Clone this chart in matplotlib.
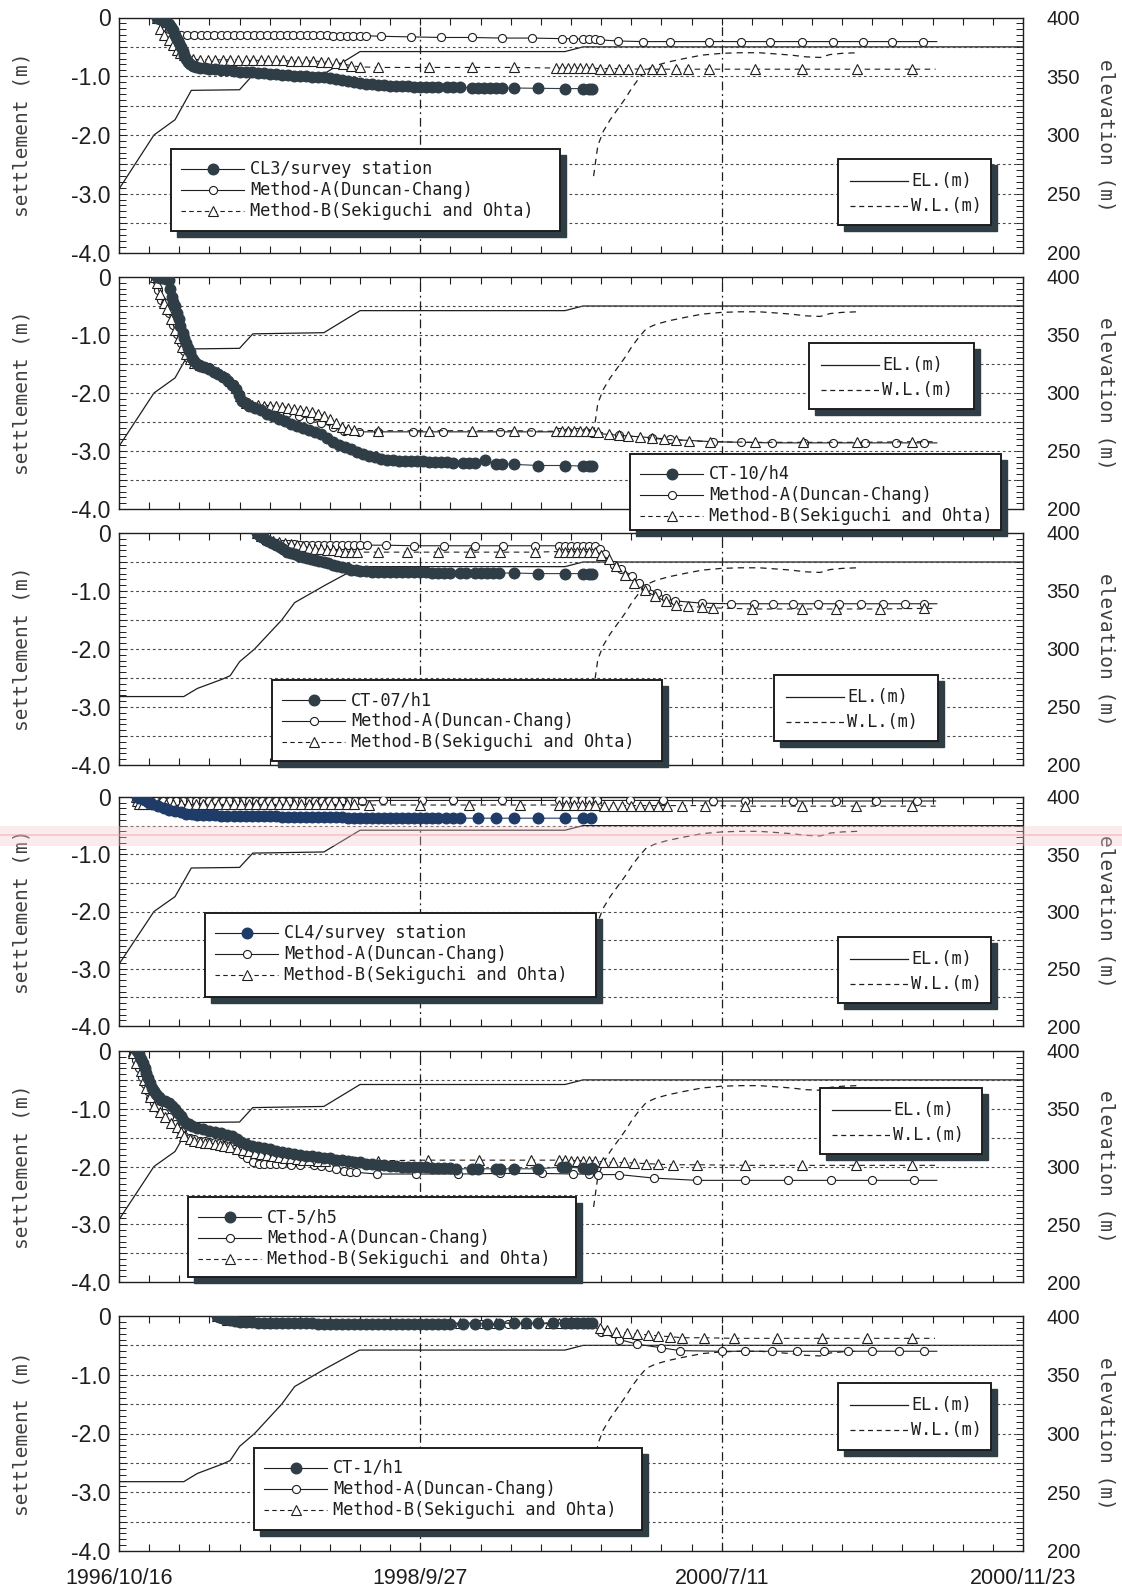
import matplotlib
matplotlib.use('Agg')
import matplotlib.pyplot as plt
from matplotlib.lines import Line2D
from matplotlib.patches import Rectangle
from matplotlib.ticker import FixedLocator, MultipleLocator

# ------------------------------------------------------------------ data
x_tick_pos = [0, 100, 200, 300]
x_tick_labels = ['1996/10/16', '1998/9/27', '2000/7/11', '2000/11/23']
settle_ticks = [0, -1, -2, -3, -4]
settle_labels = ['0', '-1.0', '-2.0', '-3.0', '-4.0']
elev_ticks = [200, 250, 300, 350, 400]
grid_levels = [-0.5, -1.0, -1.5, -2.0, -2.5, -3.0, -3.5]

# embankment elevation (two sections) and water level, metres
el_a_x = [0, 11.6, 18.6, 24, 40, 44.4, 68, 80, 148, 154, 300]
el_a_y = [254, 300, 313, 338, 338.5, 351, 352, 371, 371, 375, 375]
el_b_x = [0, 21.5, 26, 34.3, 36.9, 40, 45, 54, 58.3, 68.4, 79.8, 148, 154, 300]
el_b_y = [259, 259, 266, 274, 277, 289, 300, 325, 340, 355, 371, 371, 375, 375]
wl_x = [157.5, 158.3, 158.9, 160.7, 163, 165.5, 168, 170.2, 172.5, 175, 178, 182,
        187.5, 193.5, 200, 206, 212.5, 218, 223, 228, 232.7, 236, 240, 245]
wl_y = [265, 280, 291, 303, 313, 322, 331, 340, 348, 355.5, 359, 362,
        365, 368, 369.5, 370, 370, 369, 368, 366.5, 366, 368.5, 369.5, 370]

# ---- panel 1 : CL3
p1_meas = [(12.6,0),(13.6,-0.02),(14.6,-0.05),(15.6,-0.08),(16.6,-0.11),(17.4,-0.17),(18.0,-0.22),
           (18.6,-0.29),(19.2,-0.36),(19.8,-0.43),(20.5,-0.50),(21.1,-0.57),(21.7,-0.64),(22.4,-0.70),
           (23.0,-0.75),(23.7,-0.79),(24.5,-0.82),(25.6,-0.84),(27,-0.855),(28.5,-0.865),(30,-0.875),
           (32,-0.885),(34,-0.89),(36,-0.90),(38,-0.91),(40,-0.92),(42,-0.93),(44,-0.935),(46,-0.945),
           (48,-0.95),(50,-0.96),(52,-0.97),(54,-0.98),(56,-0.985),(58,-0.99),(60,-0.995),(62,-1.0),
           (64,-1.005),(66,-1.01),(68,-1.02),(70,-1.035),(72,-1.05),(74,-1.065),(76,-1.08),(78,-1.095),
           (80,-1.11),(82,-1.125),(84,-1.14),(86,-1.15),(88,-1.155),(90,-1.16),(92,-1.165),(94,-1.17),
           (96,-1.17),(98,-1.175),(100,-1.18),(102,-1.18),(104,-1.185),(106,-1.185),(109,-1.19),
           (111,-1.19),(113,-1.19),(117,-1.195),(119,-1.195),(121,-1.2),(123,-1.2),(125,-1.2),
           (127,-1.2),(131,-1.2),(139,-1.205),(148,-1.21),(154,-1.21),(156,-1.215),(157,-1.215)]
p1_a = [(12.6,0),(14.5,-0.1),(16.5,-0.2),(18.5,-0.26),(20.5,-0.29),(22.7,-0.3),(24.9,-0.3),(27.1,-0.3),
        (29.3,-0.3),(31.5,-0.3),(33.7,-0.3),(35.9,-0.3),(38.1,-0.3),(40.3,-0.3),(42.5,-0.3),(44.7,-0.3),
        (46.9,-0.3),(49.1,-0.3),(51.3,-0.3),(53.5,-0.3),(55.7,-0.3),(57.9,-0.3),(60.1,-0.3),(62.3,-0.3),
        (64.5,-0.3),(66.7,-0.3),(68.9,-0.3),(71.1,-0.31),(73.3,-0.31),(75.5,-0.31),(77.7,-0.31),
        (79.9,-0.31),(82.1,-0.31),(87,-0.32),(97,-0.33),(107,-0.34),(117,-0.34),(127,-0.35),(137,-0.35),
        (147,-0.36),(150.5,-0.36),(154,-0.37),(156,-0.37),(158,-0.37),(159.5,-0.38),(165.5,-0.4),
        (173.8,-0.41),(182.7,-0.41),(195.8,-0.41),(206.5,-0.41),(216,-0.41),(226.8,-0.41),(237,-0.41),
        (247,-0.41),(256.5,-0.41),(266.7,-0.41),(271.4,-0.41)]
p1_b = [(12.6,0),(13.5,-0.2),(15,-0.3),(16.7,-0.38),(18,-0.47),(19.2,-0.55),(20.3,-0.6),(21.5,-0.64),
        (23,-0.68),(24.5,-0.71),(27,-0.72),(29.5,-0.72),(32,-0.72),(34.5,-0.72),(37,-0.72),(39.5,-0.72),
        (42,-0.73),(44.5,-0.73),(47,-0.73),(49.5,-0.73),(52,-0.73),(54.5,-0.73),(57,-0.74),(59.5,-0.74),
        (62,-0.74),(64.5,-0.74),(67,-0.75),(69.5,-0.76),(72,-0.77),(74.5,-0.79),(77,-0.82),(80,-0.84),
        (86,-0.85),(103,-0.85),(117,-0.85),(131,-0.85),(145,-0.86),(147,-0.86),(149,-0.86),(151,-0.86),
        (153,-0.86),(155,-0.86),(157,-0.86),(159.5,-0.87),(162.5,-0.87),(166,-0.87),(169,-0.87),
        (173,-0.88),(176.8,-0.88),(180,-0.88),(185,-0.88),(188.7,-0.88),(195.8,-0.88),(211,-0.88),
        (226.8,-0.88),(245,-0.88),(263,-0.88),(271,-0.88)]

# ---- panel 2 : CT-10/h4
p2_meas = [(12.6,0),(13.5,-0.01),(14.5,-0.02),(15.5,-0.04),(16.5,-0.06),(17.0,-0.2),(17.5,-0.35),
           (18.0,-0.43),(18.6,-0.5),(19.2,-0.62),(19.8,-0.73),(20.4,-0.85),(21.1,-0.96),(21.7,-1.05),
           (22.3,-1.13),(23,-1.22),(23.6,-1.30),(24.3,-1.39),(24.9,-1.45),(25.8,-1.50),(26.8,-1.53),
           (28.3,-1.56),(29.9,-1.59),(31.5,-1.63),(33,-1.67),(34.6,-1.73),(36.2,-1.79),(37.5,-1.86),
           (38.8,-1.93),(39.8,-2.03),(40.7,-2.13),(42,-2.18),(43.2,-2.22),(45,-2.26),(47,-2.30),
           (49,-2.36),(51,-2.40),(53,-2.44),(55,-2.48),(57,-2.53),(59,-2.57),(61,-2.60),(63,-2.64),
           (65,-2.67),(67,-2.70),(69,-2.77),(71,-2.85),(73,-2.89),(75,-2.93),(77,-2.97),(79,-3.01),
           (81,-3.05),(83,-3.08),(85,-3.10),(87,-3.13),(89,-3.15),(91,-3.16),(93,-3.17),(95,-3.17),
           (97,-3.18),(99,-3.18),(101,-3.18),(103,-3.19),(105,-3.19),(107,-3.19),(109,-3.19),
           (111,-3.2),(114,-3.2),(116,-3.2),(118,-3.2),(121.5,-3.16),(125,-3.22),(127,-3.22),
           (131,-3.23),(139,-3.25),(148,-3.25),(154,-3.26),(156,-3.26),(157,-3.26)]
p2_a = [(12.0,0),(12.2,-0.05),(12.9,-0.22),(14.1,-0.39),(15.4,-0.45),(16.7,-0.62),(17.9,-0.82),
        (19.2,-0.99),(20.5,-1.13),(21.7,-1.27),(23,-1.39),(24.2,-1.45),(26.8,-1.5),(29.9,-1.56),
        (33,-1.65),(35.6,-1.73),(38.1,-1.85),(40,-2.02),(42,-2.16),(44.4,-2.22),(48.2,-2.26),
        (52,-2.3),(55.8,-2.34),(59.6,-2.39),(63.4,-2.45),(67.2,-2.51),(71,-2.59),(74.7,-2.65),
        (79.8,-2.67),(86,-2.67),(97.5,-2.67),(107.6,-2.67),(126.5,-2.67),(136.6,-2.67),(146,-2.67),
        (149,-2.67),(152,-2.67),(155,-2.68),(157,-2.69),(166,-2.73),(176.8,-2.77),(182.7,-2.8),
        (197,-2.84),(206.5,-2.85),(216.7,-2.86),(227.4,-2.86),(236.9,-2.86),(247.6,-2.86),
        (257.7,-2.86),(267.3,-2.86),(271.4,-2.86)]
p2_b = [(12.0,0),(12.6,-0.1),(13.5,-0.3),(14.8,-0.45),(16,-0.55),(17.3,-0.72),(18.6,-0.92),
        (19.8,-1.06),(21,-1.2),(22.3,-1.33),(23.6,-1.42),(25,-1.48),(27,-1.52),(29,-1.55),(31,-1.59),
        (33,-1.64),(35,-1.71),(37,-1.8),(38.8,-1.9),(40.2,-2.05),(42,-2.17),(44,-2.2),(46,-2.21),
        (48,-2.22),(50,-2.22),(52,-2.23),(54,-2.24),(56,-2.25),(58,-2.27),(60,-2.29),(62,-2.31),
        (64,-2.33),(66,-2.36),(68,-2.39),(70,-2.45),(72,-2.52),(74,-2.58),(76,-2.62),(78,-2.64),
        (86,-2.65),(103,-2.65),(117,-2.65),(131,-2.65),(145,-2.66),(147,-2.66),(149,-2.66),
        (151,-2.66),(153,-2.66),(155,-2.66),(157,-2.66),(159,-2.67),(162.5,-2.7),(166,-2.72),
        (169,-2.74),(173,-2.76),(177,-2.78),(181,-2.8),(185,-2.81),(189,-2.82),(196,-2.84),
        (211,-2.85),(227,-2.85),(245,-2.85),(263,-2.84),(271,-2.84)]

# ---- panel 3 : CT-07/h1
p3_meas = [(45.7,0),(46.5,-0.04),(47.3,-0.07),(48.2,-0.09),(49.5,-0.13),(50.8,-0.17),(52,-0.2),
           (53.3,-0.24),(54.5,-0.28),(55.8,-0.32),(57.1,-0.35),(58.4,-0.37),(59.6,-0.39),(61,-0.41),
           (62.3,-0.43),(63.6,-0.45),(65,-0.47),(66.5,-0.48),(68,-0.5),(69.5,-0.52),(71,-0.55),
           (72.5,-0.57),(74,-0.59),(75.5,-0.61),(77,-0.63),(78.5,-0.64),(80,-0.65),(82,-0.66),
           (84,-0.665),(86,-0.67),(88,-0.67),(90,-0.675),(92,-0.68),(94,-0.68),(96,-0.68),(98,-0.68),
           (100,-0.68),(102,-0.68),(104,-0.685),(106,-0.685),(108,-0.685),(110,-0.69),(113,-0.69),
           (115,-0.69),(118,-0.69),(120,-0.69),(122,-0.69),(124,-0.69),(126,-0.69),(131,-0.69),
           (139,-0.7),(148,-0.7),(154,-0.7),(156,-0.7),(157,-0.7)]
p3_a = [(45.7,0),(47,-0.08),(48.5,-0.13),(50,-0.16),(52,-0.18),(54,-0.19),(56,-0.19),(58,-0.19),
        (60,-0.2),(62,-0.2),(64,-0.2),(66,-0.2),(68,-0.2),(70,-0.2),(72,-0.2),(74,-0.21),(76,-0.21),
        (78,-0.21),(80,-0.21),(82.3,-0.21),(88.5,-0.21),(98,-0.22),(108,-0.22),(118,-0.22),
        (127.5,-0.22),(138,-0.22),(146,-0.22),(148,-0.22),(150,-0.22),(152,-0.22),(154,-0.22),
        (156,-0.22),(158,-0.23),(159.5,-0.27),(161.3,-0.37),(164.3,-0.55),(166.7,-0.62),(170.2,-0.74),
        (172.6,-0.86),(175,-0.95),(178.6,-1.03),(181.5,-1.12),(184.5,-1.17),(193.5,-1.21),(203,-1.22),
        (210.7,-1.22),(217,-1.22),(223.8,-1.22),(232,-1.22),(239,-1.22),(246.4,-1.22),(253.6,-1.22),
        (260.7,-1.22),(267,-1.22),(271.4,-1.22)]
p3_b = [(45.7,0),(47,-0.06),(49,-0.1),(51,-0.13),(53,-0.15),(55,-0.17),(57,-0.19),(59,-0.21),
        (61,-0.23),(63,-0.25),(65,-0.27),(67,-0.28),(69,-0.29),(71,-0.3),(73,-0.31),(75,-0.32),
        (77,-0.33),(79,-0.33),(86,-0.33),(95.6,-0.33),(106,-0.33),(116.4,-0.33),(126.5,-0.33),
        (137.9,-0.33),(146,-0.32),(148,-0.32),(150,-0.32),(152,-0.32),(154,-0.32),(156,-0.32),
        (158,-0.33),(160,-0.38),(162.5,-0.45),(164.9,-0.57),(167.9,-0.72),(170.8,-0.86),(174.4,-0.99),
        (178,-1.09),(181.5,-1.18),(185,-1.24),(188.7,-1.26),(193.5,-1.28),(197,-1.29),(210,-1.31),
        (226.8,-1.31),(238,-1.31),(252.4,-1.31),(267,-1.3),(271,-1.3)]

# ---- panel 4 : CL4
p4_meas = [(5.9,0),(6.8,-0.01),(7.8,-0.03),(8.7,-0.06),(9.7,-0.09),(11,-0.12),(12.9,-0.16),
           (14.8,-0.19),(16.7,-0.22),(18.6,-0.25),(20.5,-0.27),(22.4,-0.29),(24.2,-0.3),(26,-0.31),
           (28,-0.315),(30,-0.32),(32,-0.32),(34,-0.325),(36,-0.33),(38,-0.33),(40,-0.33),(42,-0.335),
           (44,-0.335),(46,-0.34),(48,-0.34),(50,-0.34),(52,-0.34),(54,-0.345),(56,-0.345),(58,-0.345),
           (60,-0.35),(62,-0.35),(64,-0.35),(66,-0.35),(68,-0.35),(70,-0.355),(72,-0.355),(74,-0.355),
           (76,-0.36),(78,-0.36),(80,-0.36),(82,-0.365),(84,-0.365),(86,-0.365),(88,-0.37),(90,-0.37),
           (92,-0.37),(94,-0.37),(96,-0.37),(98,-0.37),(100,-0.37),(102,-0.37),(104,-0.37),(106,-0.37),
           (108.5,-0.37),(111,-0.37),(113,-0.37),(119,-0.37),(125,-0.37),(131,-0.37),(139,-0.37),
           (148,-0.37),(154,-0.37),(156.5,-0.37)]
p4_a = [(5.5,0),(6.5,-0.04),(8,-0.07),(10.2,-0.07),(12.4,-0.07),(14.6,-0.07),(16.8,-0.07),(19,-0.07),
        (21.2,-0.07),(23.4,-0.07),(25.6,-0.07),(27.8,-0.07),(30,-0.07),(32.2,-0.07),(34.4,-0.07),
        (36.6,-0.07),(38.8,-0.07),(41,-0.07),(43.2,-0.07),(45.4,-0.07),(47.6,-0.07),(49.8,-0.07),
        (52,-0.07),(54.2,-0.07),(56.4,-0.07),(58.6,-0.07),(60.8,-0.07),(63,-0.07),(65.2,-0.07),
        (67.4,-0.07),(69.6,-0.07),(71.8,-0.07),(74,-0.07),(76.2,-0.07),(78.4,-0.07),(80.6,-0.07),
        (87.5,-0.06),(100.6,-0.06),(111,-0.06),(127,-0.06),(146,-0.06),(148.5,-0.06),(151,-0.06),
        (153.5,-0.06),(156,-0.06),(158.5,-0.06),(169.6,-0.06),(180.4,-0.06),(197,-0.07),(207.7,-0.07),
        (223.8,-0.07),(238,-0.07),(251.2,-0.07),(264.9,-0.07),(271,-0.07)]
p4_b = [(5.5,0),(6,-0.07),(6.5,-0.13),(8,-0.13),(10.5,-0.13),(13,-0.13),(15.5,-0.13),(18,-0.13),
        (20.5,-0.13),(23,-0.13),(25.5,-0.13),(28,-0.13),(30.5,-0.13),(33,-0.13),(35.5,-0.13),
        (38,-0.13),(40.5,-0.13),(43,-0.13),(45.5,-0.13),(48,-0.13),(50.5,-0.13),(53,-0.13),
        (55.5,-0.13),(58,-0.13),(60.5,-0.13),(63,-0.13),(65.5,-0.13),(68,-0.13),(70.5,-0.13),
        (73,-0.13),(75.5,-0.13),(78,-0.13),(83,-0.14),(100,-0.14),(116,-0.14),(133,-0.14),(146,-0.14),
        (148.5,-0.14),(151,-0.14),(153.5,-0.14),(156,-0.14),(158,-0.14),(161,-0.15),(164,-0.15),
        (167,-0.15),(170,-0.15),(173,-0.15),(176,-0.15),(179,-0.15),(182,-0.15),(187,-0.15),
        (194.6,-0.15),(207.7,-0.16),(226.8,-0.16),(244.6,-0.16),(263,-0.16),(271,-0.16)]

# ---- panel 5 : CT-5/h5
p5_meas = [(5.9,0),(6.5,-0.06),(7.2,-0.13),(7.8,-0.21),(8.5,-0.3),(9.1,-0.38),(9.7,-0.47),(10.4,-0.56),
           (11,-0.64),(11.6,-0.70),(12.2,-0.75),(13.2,-0.80),(14.1,-0.84),(15.4,-0.87),(16.7,-0.9),
           (17.6,-0.95),(18.6,-1.01),(19.5,-1.07),(20.5,-1.13),(21.4,-1.19),(22.3,-1.24),(23.2,-1.27),
           (24.2,-1.3),(26,-1.33),(28,-1.35),(30,-1.38),(32,-1.40),(34,-1.42),(36,-1.45),(37.5,-1.48),
           (39,-1.52),(40.5,-1.57),(42,-1.61),(44,-1.64),(46,-1.66),(48,-1.68),(50,-1.70),(52,-1.73),
           (54,-1.75),(56,-1.76),(58,-1.78),(60,-1.8),(62,-1.81),(64,-1.82),(66,-1.83),(68,-1.85),
           (70,-1.86),(72,-1.88),(74,-1.89),(76,-1.91),(78,-1.92),(80,-1.93),(82,-1.95),(84,-1.96),
           (86,-1.97),(88,-1.98),(90,-1.99),(92,-1.99),(94,-2.0),(96,-2.0),(98,-2.01),(100,-2.01),
           (102,-2.01),(104,-2.02),(106,-2.02),(108,-2.03),(110,-2.03),(112,-2.04),(117,-2.04),
           (119,-2.04),(125,-2.04),(126.5,-2.04),(131,-2.04),(139,-2.04),(147,-2.01),(148.5,-2.01),
           (154,-2.03),(155.5,-2.04),(157,-2.03)]
p5_a = [(4.5,0),(4.7,-0.04),(5.5,-0.15),(6.6,-0.3),(7.5,-0.45),(8.5,-0.58),(9.5,-0.7),(10.4,-0.81),
        (11.6,-0.9),(12.9,-0.98),(14.8,-1.07),(16.7,-1.15),(18.6,-1.27),(20.5,-1.38),(21.7,-1.47),
        (23.5,-1.5),(25,-1.53),(26.8,-1.55),(28.5,-1.56),(30,-1.57),(31.8,-1.58),(33.5,-1.6),
        (35,-1.62),(36.9,-1.64),(38.5,-1.7),(40.7,-1.78),(42.5,-1.86),(44.4,-1.93),(46.3,-1.95),
        (48.2,-1.96),(50,-1.96),(52,-1.96),(54,-1.965),(57,-1.97),(60,-1.97),(64.6,-1.97),(67,-1.99),
        (69.7,-2.01),(72,-2.04),(74.7,-2.07),(76.5,-2.09),(78.5,-2.1),(85.5,-2.13),(98.7,-2.13),
        (112.6,-2.13),(126.5,-2.12),(140.4,-2.12),(150.6,-2.13),(156,-2.13),(159,-2.14),(166,-2.14),
        (177.4,-2.2),(191.7,-2.24),(207.7,-2.24),(222,-2.24),(236.3,-2.24),(250,-2.24),(263.7,-2.24),
        (271.4,-2.24)]
p5_b = [(4.5,0),(4.7,-0.04),(5.8,-0.2),(7.2,-0.35),(8.2,-0.5),(9.1,-0.64),(10.3,-0.8),(11.6,-0.95),
        (13.5,-1.05),(15.4,-1.15),(17.3,-1.24),(19.2,-1.32),(20.5,-1.4),(21.7,-1.47),(23.5,-1.52),
        (25,-1.55),(26.8,-1.58),(28.5,-1.59),(30,-1.6),(31.8,-1.61),(33.5,-1.63),(35,-1.65),
        (36.9,-1.67),(39,-1.7),(41,-1.72),(43,-1.74),(45,-1.76),(47,-1.78),(49,-1.8),(51,-1.82),
        (53,-1.835),(55,-1.85),(57,-1.86),(59,-1.87),(61,-1.88),(63,-1.89),(66,-1.9),(68.4,-1.9),
        (77.3,-1.9),(86,-1.9),(102.5,-1.89),(119.6,-1.89),(136.6,-1.89),(146,-1.89),(148,-1.89),
        (150,-1.9),(152,-1.9),(154,-1.9),(156,-1.9),(158,-1.9),(160.5,-1.92),(164,-1.93),
        (167.5,-1.93),(171,-1.94),(175,-1.95),(179,-1.96),(184,-1.97),(191.7,-1.97),(207.7,-1.98),
        (226.8,-1.98),(244.6,-1.98),(263,-1.98),(271,-1.98)]

# ---- panel 6 : CT-1/h1
p6_meas = [(32.4,0),(33.3,-0.01),(34.3,-0.03),(35.5,-0.05),(36.9,-0.07),(38.5,-0.09),(40,-0.1),
           (42,-0.11),(44,-0.11),(46,-0.12),(48,-0.12),(50,-0.12),(52,-0.12),(54,-0.12),(56,-0.12),
           (58,-0.125),(60,-0.125),(62,-0.125),(64,-0.125),(66,-0.13),(68,-0.13),(70,-0.13),(72,-0.13),
           (74,-0.13),(76,-0.13),(78,-0.13),(80,-0.13),(82,-0.13),(84,-0.13),(86,-0.13),(88,-0.13),
           (90,-0.13),(92,-0.13),(94,-0.13),(96,-0.13),(98,-0.13),(100,-0.13),(102,-0.13),(104,-0.13),
           (106,-0.13),(108,-0.13),(110,-0.13),(114,-0.13),(118,-0.13),(122,-0.13),(126,-0.13),
           (131,-0.12),(135,-0.12),(139,-0.12),(144,-0.12),(148,-0.12),(150,-0.12),(152,-0.12),
           (154,-0.12),(155.6,-0.12),(157,-0.12)]
p6_a = [(32.4,0),(36,-0.07),(42,-0.11),(50,-0.12),(107.6,-0.13),(120,-0.13),(129,-0.13),(135,-0.13),
        (144.8,-0.13),(147,-0.13),(149.5,-0.13),(152,-0.13),(154.5,-0.13),(157,-0.14),(160,-0.28),
        (166,-0.4),(172,-0.48),(179.8,-0.54),(186.3,-0.59),(200,-0.6),(207.7,-0.6),(216.7,-0.6),
        (225,-0.6),(234,-0.6),(242,-0.6),(250,-0.6),(259,-0.6),(267,-0.6),(271.4,-0.6)]
p6_b = [(32.4,0),(36,-0.07),(42,-0.11),(50,-0.12),(113,-0.12),(125,-0.12),(135,-0.12),(143,-0.12),
        (146,-0.12),(148.5,-0.12),(151,-0.12),(153.5,-0.12),(156,-0.12),(159.5,-0.2),(162,-0.23),
        (165,-0.27),(168.5,-0.29),(172,-0.31),(175.6,-0.32),(179,-0.34),(182.7,-0.35),(186.9,-0.37),
        (194,-0.37),(204.2,-0.38),(218.5,-0.38),(233.3,-0.38),(248.2,-0.38),(263,-0.38),(270.8,-0.38)]

station_labels = ['CL3/survey station', 'CT-10/h4', 'CT-07/h1',
                  'CL4/survey station', 'CT-5/h5', 'CT-1/h1']
method_a_label = 'Method-A(Duncan-Chang)'
method_b_label = 'Method-B(Sekiguchi and Ohta)'
el_label = 'EL.(m)'
wl_label = 'W.L.(m)'

# ------------------------------------------------------------------ style / layout
W, H = 1122, 1591
L, R = 119, 1023
INK = '#1e1e1e'
DARK = '#2f3e46'
NAVY = '#1f3c68'
SHADOW = '#2f3d44'
MONO = ['DejaVu Sans Mono']
plt.rcParams['font.family'] = ['Liberation Sans', 'DejaVu Sans']

fig = plt.figure(figsize=(W / 100, H / 100), dpi=100)
fig.patch.set_facecolor('white')


def fx(x):
    return x / W


def fy(y):
    return 1 - y / H


panels = [
    dict(top=17.5, bottom=252.5, meas=p1_meas, a=p1_a, b=p1_b, el=(el_a_x, el_a_y), color=DARK,
         sleg=(171, 149, 560, 231), eleg=(838, 159, 991, 225)),
    dict(top=277, bottom=509, meas=p2_meas, a=p2_a, b=p2_b, el=(el_a_x, el_a_y), color=DARK,
         sleg=(630, 454, 1001, 530), eleg=(809, 343, 974, 409)),
    dict(top=533, bottom=765, meas=p3_meas, a=p3_a, b=p3_b, el=(el_b_x, el_b_y), color=DARK,
         sleg=(272, 680, 662, 761), eleg=(774, 675, 938, 741)),
    dict(top=797, bottom=1026, meas=p4_meas, a=p4_a, b=p4_b, el=(el_a_x, el_a_y), color=NAVY,
         sleg=(205, 913, 596, 997), eleg=(838, 937, 991, 1003)),
    dict(top=1051, bottom=1282, meas=p5_meas, a=p5_a, b=p5_b, el=(el_a_x, el_a_y), color=DARK,
         sleg=(188, 1197, 576, 1277), eleg=(820, 1088, 982, 1154)),
    dict(top=1316, bottom=1551, meas=p6_meas, a=p6_a, b=p6_b, el=(el_b_x, el_b_y), color=DARK,
         sleg=(254, 1448, 642, 1530), eleg=(838, 1383, 991, 1450)),
]


def unzip(pairs):
    return [p[0] for p in pairs], [p[1] for p in pairs]


def legend_box(l, t, r, b):
    fig.add_artist(Rectangle((fx(l + 6), fy(b + 6)), (r - l) / W, (b - t) / H,
                             transform=fig.transFigure, fc=SHADOW, ec=SHADOW, lw=1, zorder=20))
    fig.add_artist(Rectangle((fx(l), fy(b)), (r - l) / W, (b - t) / H,
                             transform=fig.transFigure, fc='white', ec=INK, lw=1.4, zorder=21))


def legend_handle(x0, x1, y, xm=None, **kw):
    line_kw = {k: v for k, v in kw.items() if k in ('color', 'lw', 'ls')}
    fig.add_artist(Line2D([fx(x0), fx(x1)], [fy(y), fy(y)], transform=fig.transFigure,
                          zorder=22, **line_kw))
    if xm is not None:
        mk = {k: v for k, v in kw.items() if k not in ('color', 'lw', 'ls')}
        fig.add_artist(Line2D([fx(xm)], [fy(y)], transform=fig.transFigure, ls='none',
                              zorder=23, **mk))


def legend_text(x, y, s):
    fig.text(fx(x), fy(y), s, ha='left', va='center', family=MONO, fontsize=12.2,
             color=INK, zorder=24)


n = len(panels)
for i, p in enumerate(panels):
    top, bot = p['top'], p['bottom']
    ax = fig.add_axes([fx(L), fy(bot), (R - L) / W, (bot - top) / H])
    ax2 = ax.twinx()
    ax.set_zorder(ax2.get_zorder() + 1)
    ax.patch.set_visible(False)
    ax.set_xlim(0, 300)
    ax.set_ylim(-4, 0)
    ax2.set_ylim(200, 400)
    for s in ax2.spines.values():
        s.set_visible(False)
    for s in ax.spines.values():
        s.set_linewidth(1.0)
        s.set_color(INK)

    # elevation and water level
    ax2.plot(p['el'][0], p['el'][1], color=INK, lw=0.9)
    ax2.plot(wl_x, wl_y, color=INK, lw=0.9, ls=(0, (5, 4)))

    # grid
    for g in grid_levels:
        ax.axhline(g, color='#4a4a4a', lw=0.8, ls=(0, (2.5, 2.5)), zorder=1)
    for v in x_tick_pos[1:3]:
        ax.axvline(v, color=INK, lw=0.9, ls=(0, (7, 3, 1.5, 3)), zorder=1)

    # Method-A
    xa, ya = unzip(p['a'])
    ax.plot(xa, ya, color=INK, lw=0.8, marker='o', ms=5.8, mfc='white', mec=INK, mew=0.8,
            markevery=list(range(len(xa) - 1)), zorder=3)
    # Method-B
    xb, yb = unzip(p['b'])
    ax.plot(xb, yb, color=INK, lw=0.8, ls=(0, (5, 4)), marker='^', ms=7.5, mfc='white', mec=INK,
            mew=0.8, markevery=list(range(len(xb) - 1)), zorder=3)
    # measured
    xm, ym = unzip(p['meas'])
    ax.plot(xm, ym, color=p['color'], lw=0.8, marker='o', ms=7.6, mfc=p['color'], mec=p['color'],
            zorder=4)

    # ticks
    ax.xaxis.set_major_locator(FixedLocator(x_tick_pos))
    ax.xaxis.set_minor_locator(MultipleLocator(10))
    ax.yaxis.set_major_locator(FixedLocator(settle_ticks))
    ax.yaxis.set_minor_locator(MultipleLocator(0.1))
    ax.set_yticklabels(settle_labels)
    ax2.yaxis.set_major_locator(FixedLocator(elev_ticks))
    ax2.yaxis.set_minor_locator(MultipleLocator(5))
    ax.tick_params(axis='x', which='both', direction='in', top=True, bottom=True,
                   length=5, width=0.8, color=INK)
    ax.tick_params(axis='y', which='both', direction='in', left=True, right=False,
                   length=5, width=0.7, color=INK)
    ax.tick_params(axis='y', which='major', pad=6, labelsize=16.5, labelcolor=INK)
    ax2.tick_params(axis='y', which='both', direction='in', right=True, left=False,
                    length=5, width=0.7, color=INK)
    ax2.tick_params(axis='y', which='major', pad=17, labelsize=14.5, labelcolor=INK)
    if i == n - 1:
        ax.set_xticklabels(x_tick_labels, fontsize=15.5, color=INK)
        ax.tick_params(axis='x', which='major', pad=12)
    else:
        ax.set_xticklabels([])

    cy = (top + bot) / 2
    fig.text(fx(22), fy(cy), 'settlement (m)', rotation=90, ha='center', va='center',
             family=MONO, fontsize=14, color='#404040')
    fig.text(fx(1106), fy(cy), 'elevation (m)', rotation=270, ha='center', va='center',
             family=MONO, fontsize=14, color='#404040')

    # settlement legend
    l, t, r, b = p['sleg']
    legend_box(l, t, r, b)
    rows = [t + 20, t + 41, t + 62]
    legend_handle(l + 10, l + 73, rows[0], xm=l + 42, color=INK, lw=0.8,
                  marker='o', ms=7.6, mfc=p['color'], mec=p['color'])
    legend_handle(l + 10, l + 73, rows[1], xm=l + 42, color=INK, lw=0.8,
                  marker='o', ms=5.8, mfc='white', mec=INK, mew=0.8)
    legend_handle(l + 10, l + 73, rows[2], xm=l + 42, color=INK, lw=0.8, ls=(0, (4, 3)),
                  marker='^', ms=7.5, mfc='white', mec=INK, mew=0.8)
    legend_text(l + 79, rows[0], station_labels[i])
    legend_text(l + 79, rows[1], method_a_label)
    legend_text(l + 79, rows[2], method_b_label)

    # elevation legend
    l, t, r, b = p['eleg']
    legend_box(l, t, r, b)
    erows = [t + 22, t + 47]
    legend_handle(l + 12, l + 70, erows[0], color=INK, lw=0.9)
    legend_handle(l + 12, l + 70, erows[1], color=INK, lw=0.9, ls=(0, (4, 3)))
    legend_text(l + 73, erows[0], el_label)
    legend_text(l + 73, erows[1], wl_label)

# faint scanner streak across the fourth panel
fig.add_artist(Rectangle((0, fy(846)), 1, 20 / H, transform=fig.transFigure,
                         fc='#f6c6cd', ec='none', alpha=0.35, zorder=30))
fig.add_artist(Line2D([0, 1], [fy(835), fy(835)], transform=fig.transFigure,
                      color='#ee9aa6', lw=1.2, alpha=0.5, zorder=31))

fig.savefig('out.png', dpi=100)
